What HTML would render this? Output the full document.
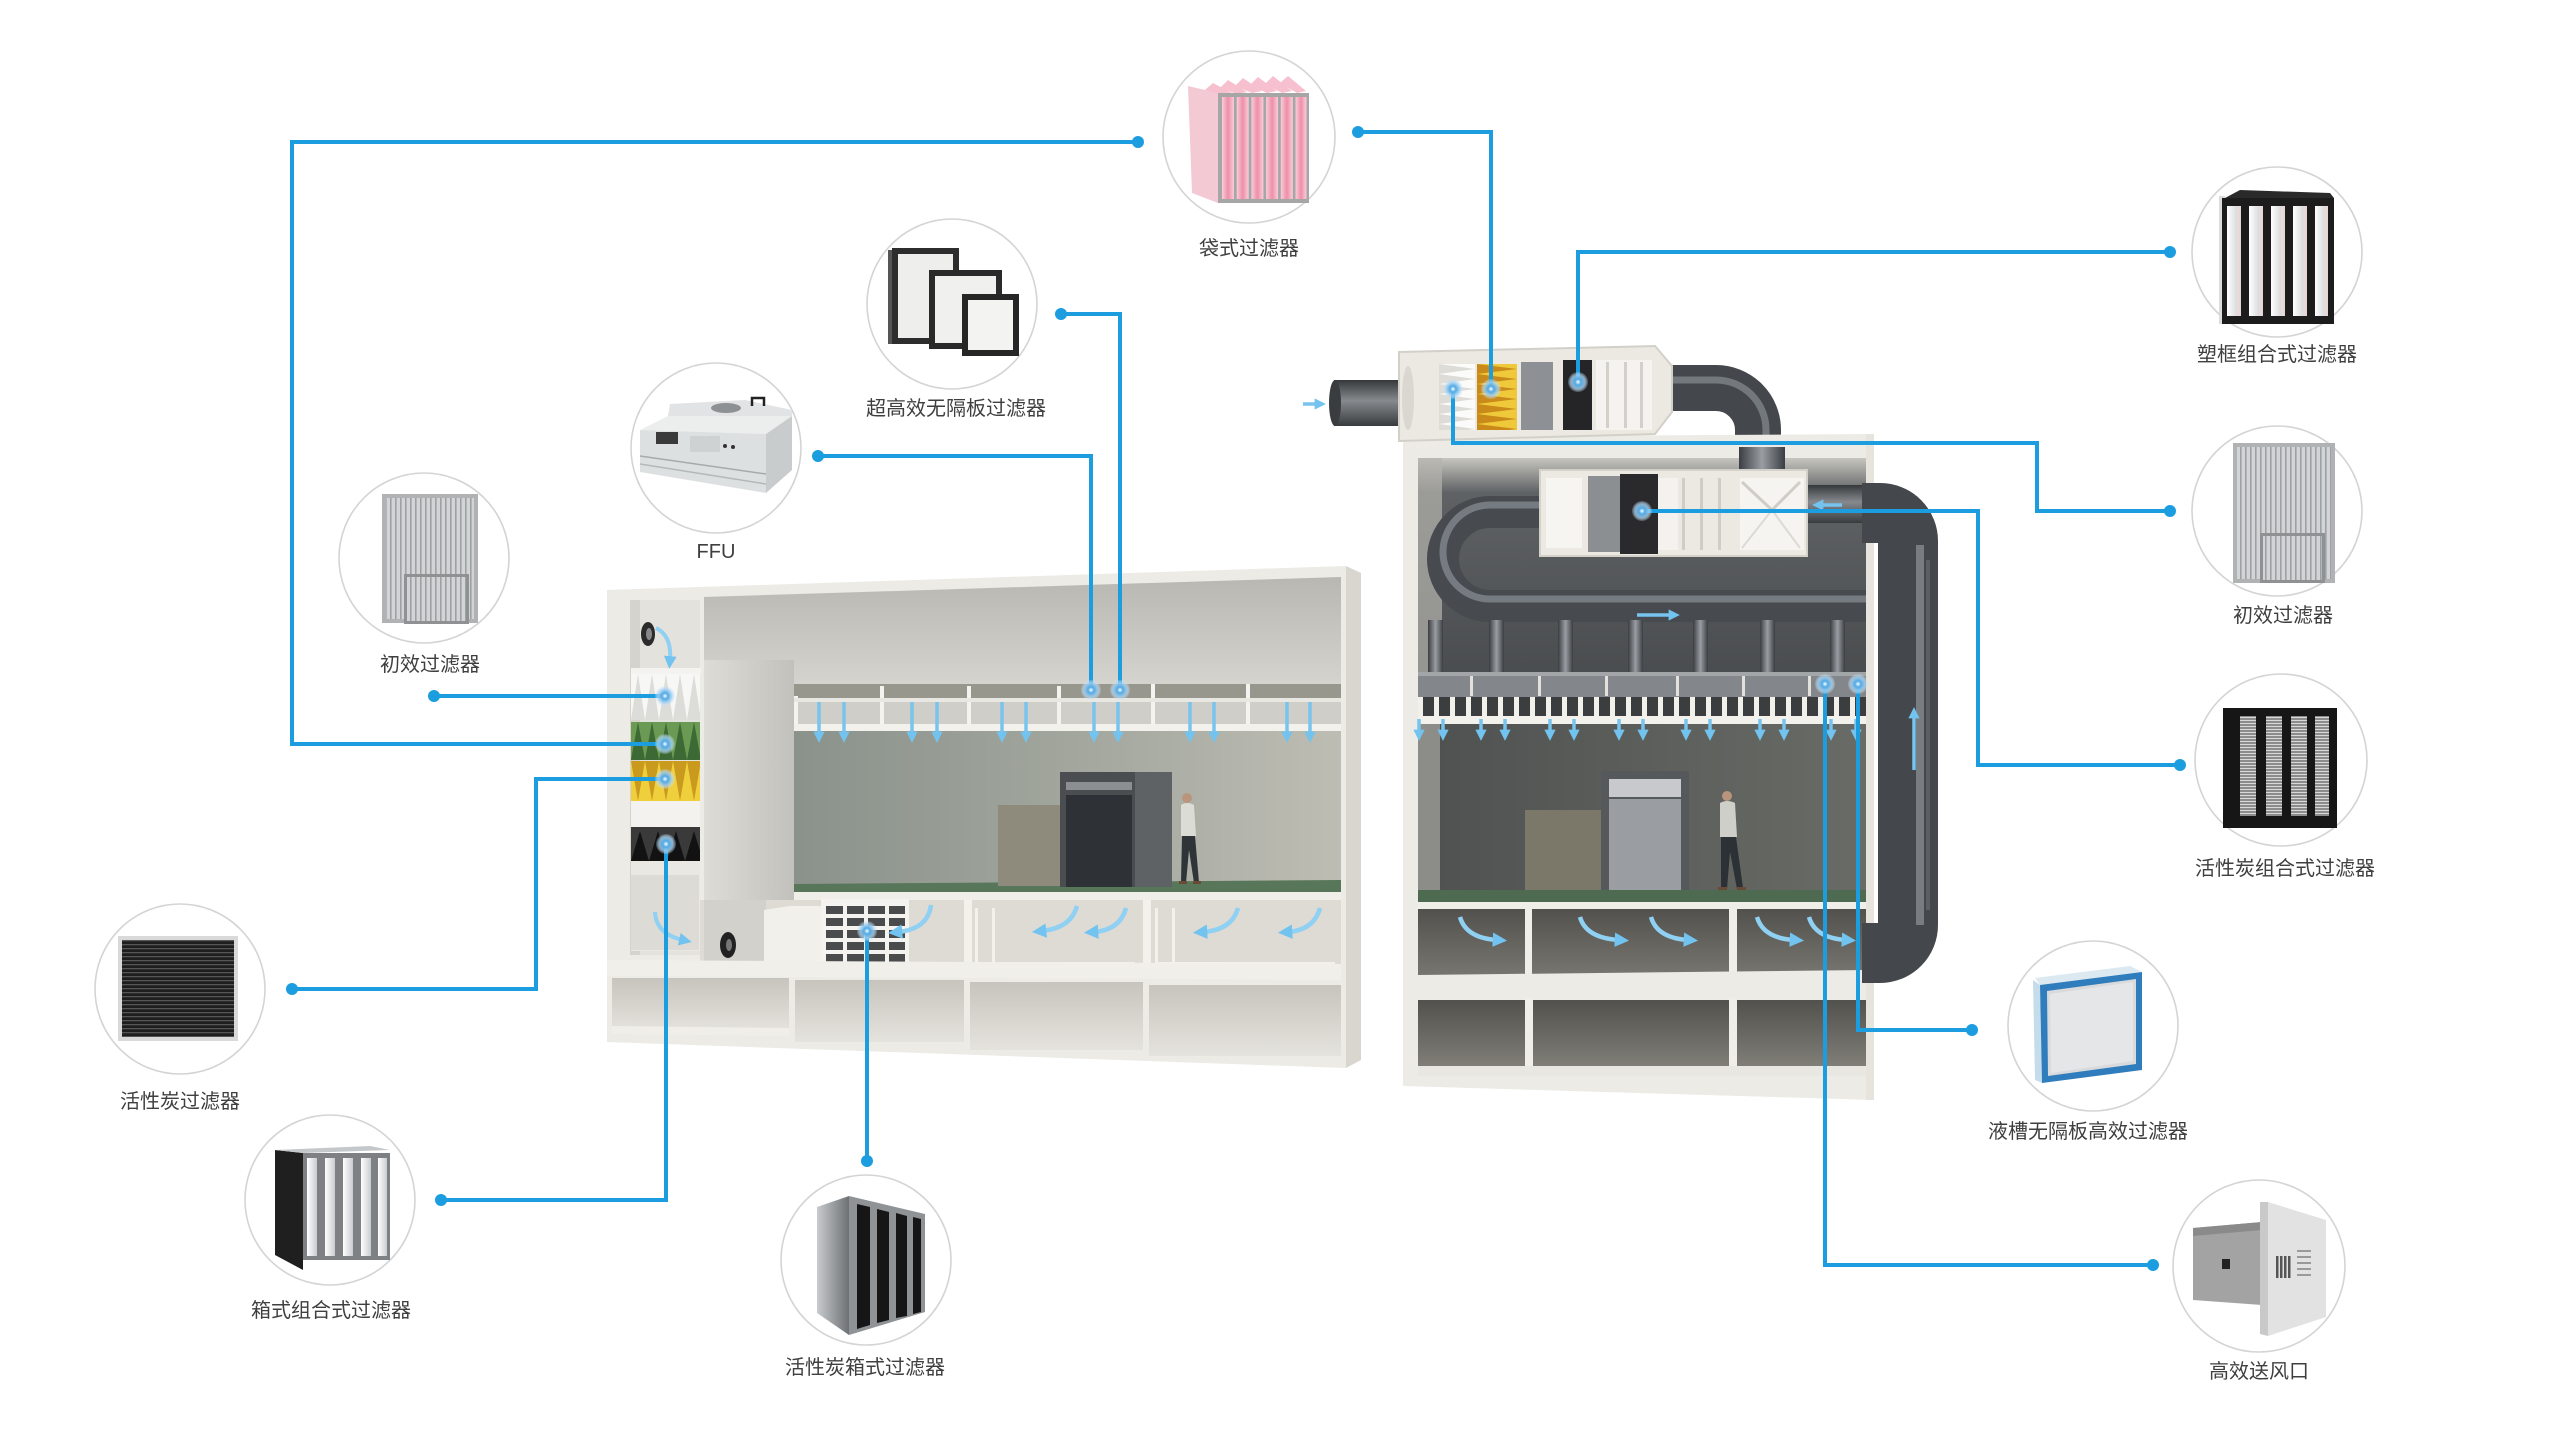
<!DOCTYPE html>
<html><head><meta charset="utf-8">
<style>
html,body{margin:0;padding:0;background:#fff;}
svg{display:block;}
text{font-family:"Liberation Sans","Noto Sans CJK SC",sans-serif;font-size:20px;fill:#3f3f3f;text-anchor:middle;}
</style></head><body>
<svg width="2560" height="1440" viewBox="0 0 2560 1440" xmlns="http://www.w3.org/2000/svg">
<defs>
 <linearGradient id="gTopL" x1="0" y1="0" x2="0" y2="1"><stop offset="0" stop-color="#b8b7b2"/><stop offset="1" stop-color="#d6d5d0"/></linearGradient>
 <linearGradient id="gShaft" x1="0" y1="0" x2="1" y2="0"><stop offset="0" stop-color="#dedcd7"/><stop offset="1" stop-color="#c2c1bc"/></linearGradient>
 <linearGradient id="gRoomL" x1="0" y1="0" x2="1" y2="0"><stop offset="0" stop-color="#8a928b"/><stop offset="0.55" stop-color="#a4a89f"/><stop offset="1" stop-color="#bebdb3"/></linearGradient>
 <linearGradient id="gRoomR" x1="0" y1="0" x2="1" y2="0"><stop offset="0" stop-color="#4e5150"/><stop offset="1" stop-color="#696b66"/></linearGradient>
 <linearGradient id="gPlenR" x1="0" y1="0" x2="0" y2="1"><stop offset="0" stop-color="#c6c5bf"/><stop offset="0.16" stop-color="#5f6264"/><stop offset="1" stop-color="#4a4d4f"/></linearGradient>
 <linearGradient id="gCellL" x1="0" y1="0" x2="0" y2="1"><stop offset="0" stop-color="#c6c4bd"/><stop offset="1" stop-color="#e5e3dd"/></linearGradient>
 <linearGradient id="gCellR" x1="0" y1="0" x2="0" y2="1"><stop offset="0" stop-color="#52514d"/><stop offset="1" stop-color="#817f78"/></linearGradient>
 <linearGradient id="gPipeY" x1="0" y1="0" x2="0" y2="1"><stop offset="0" stop-color="#35383b"/><stop offset="0.45" stop-color="#868a8e"/><stop offset="1" stop-color="#383b3e"/></linearGradient>
 <linearGradient id="gPipeX" x1="0" y1="0" x2="1" y2="0"><stop offset="0" stop-color="#3a3d41"/><stop offset="0.5" stop-color="#9a9ea2"/><stop offset="1" stop-color="#3a3d41"/></linearGradient>
 <linearGradient id="gPink" x1="0" y1="0" x2="1" y2="0"><stop offset="0" stop-color="#f9cdd8"/><stop offset="0.5" stop-color="#ee8fa9"/><stop offset="1" stop-color="#f9cdd8"/></linearGradient>
 <linearGradient id="gSteel" x1="0" y1="0" x2="1" y2="0"><stop offset="0" stop-color="#c8cbce"/><stop offset="1" stop-color="#6d7174"/></linearGradient>
 <linearGradient id="gWhiteStrip" x1="0" y1="0" x2="1" y2="0"><stop offset="0" stop-color="#ffffff"/><stop offset="1" stop-color="#c9cccf"/></linearGradient>
 <radialGradient id="gDot"><stop offset="0" stop-color="#ffffff"/><stop offset="0.3" stop-color="#4fa9e6"/><stop offset="0.7" stop-color="#a6d3f3" stop-opacity="0.8"/><stop offset="1" stop-color="#cfe7f8" stop-opacity="0.2"/></radialGradient>
 <marker id="ah" viewBox="0 0 10 10" refX="3" refY="5" markerWidth="3.2" markerHeight="3.2" orient="auto"><path d="M0,0 L10,5 L0,10 z" fill="#72c3ef"/></marker>
 <pattern id="pGreen" x="631" y="722" width="14" height="38" patternUnits="userSpaceOnUse"><rect width="14" height="38" fill="#6b9a55"/><polygon points="0,38 7,0 14,38" fill="#3d6934"/></pattern>
 <pattern id="pYellow" x="631" y="761" width="14" height="40" patternUnits="userSpaceOnUse"><rect width="14" height="40" fill="#f0cf3d"/><polygon points="0,0 7,40 14,0" fill="#c99a1d"/></pattern>
 <pattern id="pWhite" x="631" y="674" width="14" height="46" patternUnits="userSpaceOnUse"><rect width="14" height="46" fill="#f7f7f5"/><polygon points="0,46 7,0 14,46" fill="#dcdcd8"/></pattern>
 <pattern id="pBlack" x="631" y="827" width="18" height="34" patternUnits="userSpaceOnUse"><rect width="18" height="34" fill="#3a3a3a"/><polygon points="0,34 9,4 18,34" fill="#121212"/></pattern>
 <pattern id="pAY" x="1477" y="364" width="40" height="10" patternUnits="userSpaceOnUse"><rect width="40" height="10" fill="#f0c93a"/><polygon points="0,0 40,5 0,10" fill="#c98a1a"/></pattern>
 <pattern id="pAW" x="1439" y="364" width="36" height="10" patternUnits="userSpaceOnUse"><rect width="36" height="10" fill="#fbfbf9"/><polygon points="0,0 36,5 0,10" fill="#dedcd6"/></pattern>
 <pattern id="pPleat" x="0" y="0" width="5" height="5" patternUnits="userSpaceOnUse"><rect width="5" height="5" fill="#d2d4d5"/><rect width="1.6" height="5" fill="#9ea1a3"/></pattern>
 <pattern id="pMesh" x="0" y="0" width="6" height="4" patternUnits="userSpaceOnUse"><rect width="6" height="4" fill="#1e1e1e"/><rect width="6" height="1.3" fill="#555"/></pattern>
 <pattern id="pMeshG" x="0" y="0" width="4" height="3" patternUnits="userSpaceOnUse"><rect width="4" height="3" fill="#8c8c8c"/><rect width="4" height="1" fill="#d8d8d8"/></pattern>
 <pattern id="pGrille" x="1418" y="697" width="16" height="20" patternUnits="userSpaceOnUse"><rect width="16" height="20" fill="#3b3d3f"/><rect width="5" height="20" fill="#f1f0eb"/></pattern>
</defs>

<rect width="2560" height="1440" fill="#ffffff"/>

<!-- ================= LEFT BUILDING ================= -->
<polygon points="607,590 1346,566 1346,1068 607,1042" fill="#ecebe5"/>
<polygon points="1346,566 1361,573 1361,1060 1346,1068" fill="#d8d6cf"/>
<polygon points="704,597 1341,577 1341,690 704,690" fill="url(#gTopL)"/>
<rect x="704" y="660" width="90" height="300" fill="url(#gShaft)"/>
<rect x="630" y="600" width="70" height="355" fill="#e3e2dd"/>
<rect x="630" y="600" width="10" height="355" fill="#d4d3ce"/>
<rect x="631" y="668" width="70" height="6" fill="#f4f3ef"/>
<rect x="631" y="674" width="69" height="46" fill="url(#pWhite)"/>
<rect x="631" y="722" width="69" height="38" fill="url(#pGreen)"/>
<rect x="631" y="761" width="69" height="40" fill="url(#pYellow)"/>
<rect x="631" y="801" width="69" height="26" fill="#f3f2ee"/>
<rect x="631" y="827" width="69" height="34" fill="url(#pBlack)"/>
<rect x="631" y="861" width="69" height="90" fill="#e9e8e3"/>
<rect x="631" y="875" width="68" height="75" fill="#dcdbd5"/>
<ellipse cx="648" cy="634" rx="7" ry="12" fill="#2b2b2b"/>
<ellipse cx="649" cy="634" rx="3" ry="6" fill="#888"/>
<path d="M656,628 Q672,636 670,660" stroke="#8fd0f3" stroke-width="4" fill="none" marker-end="url(#ah)"/>
<path d="M655,912 Q656,934 683,940" stroke="#8fd0f3" stroke-width="4" fill="none" marker-end="url(#ah)"/>
<rect x="794" y="684" width="547" height="46" fill="#cfcec8"/>
<rect x="794" y="684" width="547" height="14" fill="#98978e"/>
<g fill="#f4f3ef">
 <rect x="794" y="696" width="4" height="30"/><rect x="880" y="686" width="4" height="40"/><rect x="967" y="686" width="4" height="40"/>
 <rect x="1057" y="686" width="4" height="40"/><rect x="1151" y="684" width="4" height="42"/><rect x="1246" y="684" width="4" height="42"/>
</g>
<rect x="794" y="698" width="547" height="4" fill="#e8e7e2"/>
<rect x="794" y="724" width="547" height="7" fill="#f2f1ec"/>
<rect x="794" y="731" width="547" height="156" fill="url(#gRoomL)"/>
<polygon points="794,884 1341,880 1341,893 794,892" fill="#587659"/>
<rect x="794" y="892" width="547" height="8" fill="#efeee9"/>
<rect x="998" y="805" width="62" height="81" fill="#8f8b7c"/>
<rect x="1060" y="772" width="112" height="115" fill="#4b4e51"/>
<rect x="1135" y="772" width="37" height="115" fill="#5f6264"/>
<rect x="1066" y="782" width="66" height="8" fill="#8c8f92"/>
<rect x="1066" y="795" width="66" height="92" fill="#2e3135"/>
<g transform="translate(1175,792)">
 <circle cx="12" cy="6" r="5" fill="#b8957c"/>
 <path d="M6,13 Q12,9 19,13 L21,44 L6,44 Z" fill="#dcdcd6"/>
 <polygon points="7,44 20,44 24,90 19,91 14,58 11,91 6,90" fill="#2f3439"/>
 <rect x="4" y="89" width="8" height="3" fill="#6b4a35"/><rect x="18" y="89" width="8" height="3" fill="#6b4a35"/>
</g>
<rect x="700" y="900" width="641" height="68" fill="#dddbd4"/>
<rect x="704" y="900" width="62" height="68" fill="#d2d1cb"/>
<ellipse cx="728" cy="945" rx="8" ry="13" fill="#222"/>
<ellipse cx="729" cy="945" rx="3" ry="6" fill="#777"/>
<polygon points="764,910 790,906 822,906 822,970 764,970" fill="#f1f0eb"/>
<rect x="821" y="899" width="88" height="70" fill="#f4f3ef"/>
<g fill="#4a4b4c">
 <rect x="826" y="906" width="17" height="8"/><rect x="847" y="906" width="17" height="8"/><rect x="868" y="906" width="17" height="8"/><rect x="889" y="906" width="16" height="8"/>
 <rect x="826" y="918" width="17" height="8"/><rect x="847" y="918" width="17" height="8"/><rect x="868" y="918" width="17" height="8"/><rect x="889" y="918" width="16" height="8"/>
 <rect x="826" y="930" width="17" height="8"/><rect x="847" y="930" width="17" height="8"/><rect x="868" y="930" width="17" height="8"/><rect x="889" y="930" width="16" height="8"/>
 <rect x="826" y="942" width="17" height="8"/><rect x="847" y="942" width="17" height="8"/><rect x="868" y="942" width="17" height="8"/><rect x="889" y="942" width="16" height="8"/>
 <rect x="826" y="954" width="17" height="8"/><rect x="847" y="954" width="17" height="8"/><rect x="868" y="954" width="17" height="8"/><rect x="889" y="954" width="16" height="8"/>
</g>
<g fill="#f2f1ec">
 <rect x="964" y="900" width="8" height="68"/><rect x="1143" y="900" width="8" height="68"/>
 <rect x="975" y="908" width="3" height="58"/><rect x="992" y="908" width="3" height="58"/>
 <rect x="1155" y="908" width="3" height="58"/><rect x="1172" y="908" width="3" height="58"/>
 <rect x="975" y="962" width="160" height="4"/><rect x="1155" y="962" width="180" height="4"/>
</g>
<polygon points="607,960 1341,964 1341,980 607,976" fill="#f0efea"/>
<rect x="612" y="978" width="177" height="54" fill="url(#gCellL)"/>
<rect x="795" y="980" width="169" height="62" fill="url(#gCellL)"/>
<rect x="970" y="982" width="173" height="68" fill="url(#gCellL)"/>
<rect x="1149" y="985" width="192" height="71" fill="url(#gCellL)"/>
<polygon points="612,1026 789,1028 789,1036 612,1034" fill="#efeee9"/>

<g stroke="#78c4ee" stroke-width="3.5" marker-end="url(#ah)">
 <line x1="819" y1="702" x2="819" y2="735"/><line x1="844" y1="702" x2="844" y2="735"/>
 <line x1="912" y1="702" x2="912" y2="735"/><line x1="937" y1="702" x2="937" y2="735"/>
 <line x1="1002" y1="702" x2="1002" y2="735"/><line x1="1026" y1="702" x2="1026" y2="735"/>
 <line x1="1094" y1="702" x2="1094" y2="735"/><line x1="1118" y1="702" x2="1118" y2="735"/>
 <line x1="1190" y1="702" x2="1190" y2="735"/><line x1="1214" y1="702" x2="1214" y2="735"/>
 <line x1="1287" y1="702" x2="1287" y2="735"/><line x1="1310" y1="702" x2="1310" y2="735"/>
</g>
<g stroke="#8fd0f3" stroke-width="4.5" fill="none" marker-end="url(#ah)">
 <path d="M931,905 Q928,929 898,932"/>
 <path d="M1077,906 Q1071,928 1042,931"/>
 <path d="M1126,908 Q1120,930 1094,932"/>
 <path d="M1238,908 Q1232,930 1203,932"/>
 <path d="M1320,908 Q1314,930 1288,932"/>
</g>

<!-- ================= RIGHT BUILDING ================= -->
<path d="M1666,388 H1716 A42,42 0 0 1 1758,430 V458" stroke="#44484c" stroke-width="46" fill="none"/>
<path d="M1666,380 H1716 A50,50 0 0 1 1766,430 V458" stroke="#80858a" stroke-width="7" fill="none" opacity="0.8"/>
<polygon points="1403,437 1874,434 1874,1100 1403,1086" fill="#ecebe5"/>
<rect x="1418" y="458" width="450" height="216" fill="url(#gPlenR)"/>
<rect x="1418" y="458" width="24" height="216" fill="#b5b4ae" opacity="0.7"/>
<rect x="1739" y="447" width="46" height="34" fill="url(#gPipeX)"/>
<rect x="1800" y="485" width="68" height="38" fill="url(#gPipeY)"/>
<path d="M1550,512 H1490 A47,47 0 0 0 1490,606 H1866" stroke="#474b4f" stroke-width="32" fill="none"/>
<path d="M1550,505 H1490 A40,40 0 0 0 1490,599 H1866" stroke="#7f8489" stroke-width="7" fill="none" opacity="0.85"/>
<g fill="url(#gPipeX)">
 <rect x="1428" y="620" width="15" height="54"/><rect x="1489" y="620" width="15" height="54"/><rect x="1558" y="620" width="15" height="54"/>
 <rect x="1628" y="620" width="15" height="54"/><rect x="1693" y="620" width="15" height="54"/><rect x="1760" y="620" width="15" height="54"/>
 <rect x="1830" y="620" width="15" height="54"/>
</g>
<rect x="1540" y="470" width="267" height="86" fill="#ebe9e1" stroke="#d3d1ca" stroke-width="2"/>
<rect x="1546" y="478" width="36" height="70" fill="#f6f5f1"/>
<rect x="1588" y="476" width="32" height="76" fill="#8c8f92"/>
<rect x="1620" y="474" width="38" height="80" fill="#2a292b"/>
<rect x="1658" y="478" width="20" height="72" fill="#f3f2ee"/>
<rect x="1682" y="478" width="3" height="72" fill="#cfcdc6"/>
<rect x="1700" y="478" width="3" height="72" fill="#cfcdc6"/>
<rect x="1718" y="478" width="3" height="72" fill="#cfcdc6"/>
<rect x="1740" y="478" width="64" height="72" fill="#f5f4f0"/>
<polyline points="1742,482 1772,510 1800,482" stroke="#cfcdc6" stroke-width="3" fill="none"/>
<polyline points="1742,548 1772,510 1800,548" stroke="#dcdad4" stroke-width="2" fill="none"/>
<rect x="1418" y="672" width="450" height="25" fill="#83868a"/>
<rect x="1418" y="672" width="450" height="4" fill="#a3a6a9"/>
<g fill="#e2e1dc"><rect x="1470" y="676" width="3" height="20"/><rect x="1538" y="676" width="3" height="20"/><rect x="1605" y="676" width="3" height="20"/><rect x="1676" y="676" width="3" height="20"/><rect x="1742" y="676" width="3" height="20"/><rect x="1808" y="676" width="3" height="20"/></g>
<rect x="1418" y="697" width="450" height="20" fill="url(#pGrille)"/>
<rect x="1418" y="716" width="450" height="8" fill="#f2f1ec"/>
<rect x="1418" y="724" width="450" height="170" fill="url(#gRoomR)"/>
<rect x="1418" y="724" width="22" height="170" fill="#8c8d89"/>
<rect x="1525" y="810" width="76" height="86" fill="#7b786a"/>
<rect x="1601" y="771" width="88" height="126" fill="#56595c"/>
<rect x="1609" y="779" width="72" height="18" fill="#c7c9cc"/>
<rect x="1609" y="799" width="72" height="98" fill="#9a9ea3"/>
<g transform="translate(1715,790)">
 <circle cx="12" cy="6" r="5" fill="#b8957c"/>
 <path d="M5,13 Q12,9 20,13 L22,47 L5,47 Z" fill="#cfcfca"/>
 <polygon points="6,47 21,47 28,98 22,99 15,62 12,99 6,98" fill="#2c3136"/>
 <rect x="3" y="97" width="9" height="3" fill="#6b4a35"/><rect x="22" y="97" width="9" height="3" fill="#6b4a35"/>
</g>
<polygon points="1418,890 1868,890 1868,905 1418,902" fill="#4e6a50"/>
<rect x="1418" y="902" width="450" height="7" fill="#efeee9"/>
<rect x="1418" y="909" width="450" height="84" fill="url(#gCellR)"/>
<rect x="1525" y="905" width="7" height="90" fill="#efeee9"/>
<rect x="1729" y="905" width="8" height="90" fill="#efeee9"/>
<polygon points="1418,975 1868,970 1868,999 1418,1000" fill="#ecebe5"/>
<rect x="1418" y="1000" width="450" height="68" fill="url(#gCellR)"/>
<rect x="1525" y="998" width="8" height="72" fill="#efeee9"/>
<rect x="1729" y="998" width="8" height="72" fill="#efeee9"/>
<rect x="1418" y="1066" width="450" height="10" fill="#e8e7e1"/>
<rect x="1866" y="434" width="8" height="666" fill="#e6e4dd"/>
<path d="M1862,513 H1880 A28,28 0 0 1 1908,541 V925 A28,28 0 0 1 1880,953 H1862" stroke="#44484c" stroke-width="60" fill="none"/>
<path d="M1920,545 V925" stroke="#7e8387" stroke-width="8" fill="none" opacity="0.9"/>
<path d="M1928,560 V910" stroke="#5c6064" stroke-width="4" fill="none"/>
<g stroke="#78c4ee" stroke-width="3.5" marker-end="url(#ah)">
 <line x1="1419" y1="719" x2="1419" y2="733"/><line x1="1443" y1="719" x2="1443" y2="733"/>
 <line x1="1481" y1="719" x2="1481" y2="733"/><line x1="1505" y1="719" x2="1505" y2="733"/>
 <line x1="1550" y1="719" x2="1550" y2="733"/><line x1="1574" y1="719" x2="1574" y2="733"/>
 <line x1="1619" y1="719" x2="1619" y2="733"/><line x1="1643" y1="719" x2="1643" y2="733"/>
 <line x1="1686" y1="719" x2="1686" y2="733"/><line x1="1710" y1="719" x2="1710" y2="733"/>
 <line x1="1760" y1="719" x2="1760" y2="733"/><line x1="1784" y1="719" x2="1784" y2="733"/>
 <line x1="1831" y1="719" x2="1831" y2="733"/><line x1="1856" y1="719" x2="1856" y2="733"/>
 <line x1="1637" y1="615" x2="1672" y2="615"/>
 <line x1="1842" y1="505" x2="1820" y2="505"/>
 <line x1="1914" y1="770" x2="1914" y2="715"/>
 <line x1="1303" y1="404" x2="1318" y2="404"/>
</g>
<g stroke="#8fd0f3" stroke-width="4.5" fill="none" marker-end="url(#ah)">
 <path d="M1460,917 Q1466,938 1497,940"/>
 <path d="M1580,917 Q1586,938 1619,940"/>
 <path d="M1651,917 Q1657,938 1688,940"/>
 <path d="M1757,917 Q1763,938 1794,940"/>
 <path d="M1809,917 Q1815,938 1846,940"/>
</g>

<!-- ================= AHU TOP ================= -->
<rect x="1334" y="380" width="70" height="46" fill="url(#gPipeY)"/>
<ellipse cx="1335" cy="403" rx="6" ry="23" fill="#3a3d40"/>
<polygon points="1399,352 1655,346 1672,366 1672,412 1655,434 1399,441" fill="#ebe9e2" stroke="#d2d0c9" stroke-width="2"/>
<ellipse cx="1408" cy="398" rx="6" ry="32" fill="#d9d7d0"/>
<rect x="1439" y="364" width="36" height="66" fill="url(#pAW)"/>
<rect x="1477" y="364" width="40" height="66" fill="url(#pAY)"/>
<rect x="1521" y="362" width="32" height="68" fill="#8d9094"/>
<rect x="1563" y="360" width="29" height="70" fill="#252527"/>
<rect x="1596" y="360" width="56" height="70" fill="#f4f3ef"/>
<rect x="1606" y="362" width="3" height="66" fill="#d2d0c9"/>
<rect x="1624" y="362" width="3" height="66" fill="#d2d0c9"/>
<rect x="1640" y="362" width="3" height="66" fill="#d2d0c9"/>

<!-- ================= CONNECTORS ================= -->
<g stroke="#1c9de0" stroke-width="4" fill="none" stroke-linejoin="miter">
 <polyline points="1358,132 1491,132 1491,388"/>
 <polyline points="1138,142 292,142 292,744 665,744"/>
 <polyline points="1061,314 1120,314 1120,690"/>
 <polyline points="818,456 1091,456 1091,690"/>
 <polyline points="434,696 665,696"/>
 <polyline points="292,989 536,989 536,779 665,779"/>
 <polyline points="441,1200 666,1200 666,844"/>
 <polyline points="867,1161 867,931"/>
 <polyline points="2170,252 1578,252 1578,382"/>
 <polyline points="1453,389 1453,443 2037,443 2037,511 2170,511"/>
 <polyline points="1642,511 1978,511 1978,765 2180,765"/>
 <polyline points="1972,1030 1858,1030 1858,684"/>
 <polyline points="2153,1265 1825,1265 1825,684"/>
</g>
<g fill="#1c9de0">
 <circle cx="1358" cy="132" r="6"/><circle cx="1138" cy="142" r="6"/><circle cx="1061" cy="314" r="6"/>
 <circle cx="818" cy="456" r="6"/><circle cx="434" cy="696" r="6"/><circle cx="292" cy="989" r="6"/>
 <circle cx="441" cy="1200" r="6"/><circle cx="867" cy="1161" r="6"/><circle cx="2170" cy="252" r="6"/>
 <circle cx="2170" cy="511" r="6"/><circle cx="2180" cy="765" r="6"/><circle cx="1972" cy="1030" r="6"/>
 <circle cx="2153" cy="1265" r="6"/>
</g>
<g fill="url(#gDot)">
 <circle cx="1491" cy="389" r="10"/><circle cx="1578" cy="382" r="10"/><circle cx="1453" cy="389" r="10"/>
 <circle cx="1642" cy="511" r="10"/><circle cx="665" cy="744" r="10"/><circle cx="665" cy="696" r="10"/>
 <circle cx="665" cy="779" r="10"/><circle cx="666" cy="844" r="10"/><circle cx="867" cy="931" r="10"/>
 <circle cx="1091" cy="690" r="10"/><circle cx="1120" cy="690" r="10"/><circle cx="1858" cy="684" r="10"/>
 <circle cx="1825" cy="684" r="10"/>
</g>

<!-- ================= PRODUCT CIRCLES ================= -->
<g fill="#ffffff" stroke="#d4d4d4" stroke-width="1.6">
 <circle cx="1249" cy="137" r="86"/>
 <circle cx="952" cy="304" r="85"/>
 <circle cx="716" cy="448" r="85"/>
 <circle cx="424" cy="558" r="85"/>
 <circle cx="2277" cy="252" r="85"/>
 <circle cx="2277" cy="511" r="85"/>
 <circle cx="2281" cy="760" r="86"/>
 <circle cx="2093" cy="1026" r="85"/>
 <circle cx="2259" cy="1266" r="86"/>
 <circle cx="180" cy="989" r="85"/>
 <circle cx="330" cy="1200" r="85"/>
 <circle cx="866" cy="1260" r="85"/>
</g>

<polygon points="1188,86 1218,93 1218,203 1192,193" fill="#f3c9d4"/>
<g fill="#f6c0ce">
 <polygon points="1205,90 1213,83 1232,93 1222,95"/><polygon points="1220,88 1228,80 1247,92 1237,94"/>
 <polygon points="1235,86 1243,78 1262,91 1252,93"/><polygon points="1250,85 1258,77 1277,91 1267,93"/>
 <polygon points="1265,84 1273,76 1292,91 1282,93"/><polygon points="1280,83 1288,76 1306,91 1297,93"/>
</g>
<rect x="1218" y="93" width="91" height="110" fill="#a6a6a6"/>
<g fill="url(#gPink)">
 <rect x="1222" y="97" width="12" height="102"/><rect x="1236.7" y="97" width="12" height="102"/><rect x="1251.4" y="97" width="12" height="102"/>
 <rect x="1266.1" y="97" width="12" height="102"/><rect x="1280.8" y="97" width="12" height="102"/><rect x="1295.5" y="97" width="11" height="102"/>
</g>

<rect x="888" y="250" width="6" height="94" fill="#555"/>
<rect x="892" y="248" width="67" height="96" fill="#2d2d2d"/>
<rect x="898" y="254" width="55" height="84" fill="#eeeeec"/>
<rect x="929" y="270" width="73" height="79" fill="#2a2a2a"/>
<rect x="935" y="276" width="61" height="67" fill="#f0f0ee"/>
<rect x="962" y="294" width="57" height="62" fill="#262626"/>
<rect x="968" y="300" width="45" height="50" fill="#f3f3f1"/>

<polygon points="640,430 668,416 792,416 766,434" fill="#eceeee"/>
<polygon points="668,416 670,404 745,400 792,410 792,416" fill="#e1e3e4"/>
<ellipse cx="726" cy="408" rx="15" ry="5" fill="#8e9193"/>
<path d="M752,406 v-8 h12 v8" stroke="#222" stroke-width="2.5" fill="none"/>
<polygon points="640,430 766,434 766,493 640,472" fill="#dde0e1"/>
<polygon points="766,434 792,416 792,470 766,493" fill="#c9cccd"/>
<line x1="640" y1="456" x2="766" y2="474" stroke="#a7aaab" stroke-width="1.5"/>
<line x1="640" y1="464" x2="766" y2="484" stroke="#b5b8b9" stroke-width="1.5"/>
<rect x="656" y="432" width="22" height="12" fill="#3a3a3a"/>
<rect x="690" y="436" width="30" height="16" fill="#cfd2d3"/>
<circle cx="725" cy="446" r="2" fill="#333"/><circle cx="733" cy="447" r="2" fill="#333"/>

<rect x="382" y="494" width="96" height="129" fill="#b0b2b4"/>
<rect x="386" y="498" width="88" height="121" fill="url(#pPleat)"/>
<rect x="404" y="574" width="65" height="50" fill="#8f9193"/>
<rect x="407" y="577" width="59" height="44" fill="url(#pPleat)"/>

<rect x="2219" y="196" width="6" height="128" fill="#dcdcdc"/>
<polygon points="2225,198 2240,190 2330,193 2334,198" fill="#2a2a2a"/>
<rect x="2222" y="198" width="112" height="126" fill="#1c1c1c"/>
<g fill="url(#gWhiteStrip)">
 <rect x="2227" y="206" width="14" height="110"/><rect x="2249" y="206" width="14" height="110"/><rect x="2271" y="206" width="14" height="110"/>
 <rect x="2293" y="206" width="14" height="110"/><rect x="2315" y="206" width="13" height="110"/>
</g>
<g fill="#f1dcd8" opacity="0.7">
 <rect x="2237" y="206" width="4" height="110"/><rect x="2259" y="206" width="4" height="110"/><rect x="2281" y="206" width="4" height="110"/>
 <rect x="2303" y="206" width="4" height="110"/><rect x="2324" y="206" width="4" height="110"/>
</g>

<rect x="2233" y="443" width="102" height="140" fill="#b0b2b4"/>
<rect x="2237" y="447" width="94" height="132" fill="url(#pPleat)"/>
<rect x="2260" y="533" width="65" height="50" fill="#8f9193"/>
<rect x="2263" y="536" width="59" height="44" fill="url(#pPleat)"/>

<rect x="2223" y="708" width="114" height="120" fill="#161616"/>
<g fill="url(#pMeshG)">
 <rect x="2240" y="716" width="16" height="100"/><rect x="2266" y="716" width="16" height="100"/>
 <rect x="2291" y="716" width="16" height="100"/><rect x="2315" y="716" width="14" height="100"/>
</g>

<polygon points="2033,980 2040,985 2042,1083 2035,1080" fill="#c5dcea"/>
<polygon points="2035,978 2130,966 2142,972 2040,985" fill="#dde9f1"/>
<polygon points="2040,985 2142,972 2142,1070 2042,1083" fill="#2f7dbc"/>
<polygon points="2047,991 2136,979 2136,1064 2048,1076" fill="#d8dadc"/>
<polygon points="2050,994 2133,982 2133,1061 2051,1073" fill="#e4e6e8"/>

<polygon points="2193,1228 2262,1222 2262,1305 2193,1300" fill="#a3a3a3"/>
<polygon points="2193,1228 2262,1222 2262,1230 2193,1236" fill="#8a8a8a"/>
<rect x="2222" y="1259" width="8" height="10" fill="#222"/>
<polygon points="2260,1202 2268,1202 2268,1336 2260,1334" fill="#c9c9c9"/>
<polygon points="2268,1202 2326,1220 2326,1317 2268,1336" fill="#e2e2e2"/>
<g fill="#555">
 <rect x="2276" y="1256" width="2.5" height="22"/><rect x="2280" y="1256" width="2.5" height="22"/><rect x="2284" y="1256" width="2.5" height="22"/><rect x="2288" y="1256" width="2.5" height="22"/>
</g>
<g fill="#9a9a9a">
 <rect x="2297" y="1250" width="14" height="2"/><rect x="2297" y="1256" width="14" height="2"/><rect x="2297" y="1262" width="14" height="2"/><rect x="2297" y="1268" width="14" height="2"/><rect x="2297" y="1274" width="14" height="2"/>
</g>

<rect x="118" y="936" width="120" height="105" fill="#d9d9d9"/>
<rect x="122" y="940" width="112" height="97" fill="url(#pMesh)"/>

<polygon points="275,1150 303,1153 303,1270 275,1255" fill="#1f1f1f"/>
<polygon points="275,1150 370,1146 390,1150 303,1153" fill="#c5c8cb"/>
<rect x="303" y="1153" width="87" height="107" fill="#7e8184"/>
<g fill="url(#gWhiteStrip)">
 <rect x="307" y="1158" width="10" height="98"/><rect x="325" y="1158" width="10" height="98"/><rect x="343" y="1158" width="10" height="98"/>
 <rect x="361" y="1158" width="10" height="98"/><rect x="378" y="1158" width="9" height="98"/>
</g>

<polygon points="817,1207 849,1196 849,1335 817,1313" fill="url(#gSteel)"/>
<polygon points="849,1196 925,1214 925,1312 849,1335" fill="#8f9396"/>
<g fill="#161616">
 <polygon points="857,1204 870,1207 870,1325 857,1329"/>
 <polygon points="877,1209 889,1212 889,1320 877,1323"/>
 <polygon points="896,1213 907,1216 907,1316 896,1318"/>
 <polygon points="913,1217 921,1219 921,1312 913,1314"/>
</g>

<!-- ================= LABELS ================= -->
<text x="1249" y="255">袋式过滤器</text>
<text x="956" y="415">超高效无隔板过滤器</text>
<text x="716" y="558">FFU</text>
<text x="430" y="671">初效过滤器</text>
<text x="2277" y="361">塑框组合式过滤器</text>
<text x="2283" y="622">初效过滤器</text>
<text x="2285" y="875">活性炭组合式过滤器</text>
<text x="2088" y="1138">液槽无隔板高效过滤器</text>
<text x="2259" y="1378">高效送风口</text>
<text x="180" y="1108">活性炭过滤器</text>
<text x="331" y="1317">箱式组合式过滤器</text>
<text x="865" y="1374">活性炭箱式过滤器</text>
</svg>
</body></html>
